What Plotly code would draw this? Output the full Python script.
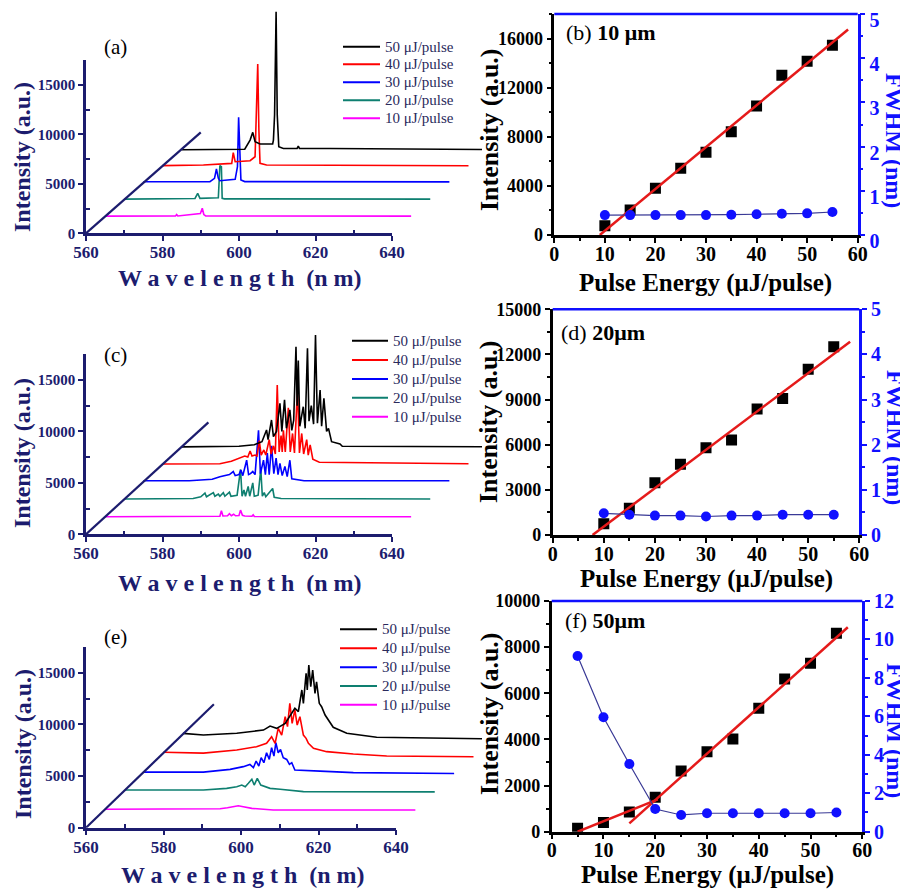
import plotly.graph_objects as go

# ======================= DATA =======================
SERIES_NAMES = ["10 μJ/pulse", "20 μJ/pulse", "30 μJ/pulse", "40 μJ/pulse", "50 μJ/pulse"]
WAVE_TICKS = [560, 580, 600, 620, 640]
WAVE_MINOR = [570, 590, 610, 630]
INT_TICKS = [0, 5000, 10000, 15000]
INT_MINOR = [2500, 7500, 12500]

# (a) 10 um spectra (raw wavelength nm, intensity a.u. before waterfall offset)
A10_WL = [560, 578.4, 578.7, 579.0, 584.9, 585.4, 585.8, 586.3, 640]
A10_I = [40, 50, 200, 50, 300, 830, 200, 50, 40]
A20_WL = [560, 578.5, 579.2, 579.8, 584.6, 585.0, 585.4, 585.6, 586.2, 640]
A20_I = [60, 120, 640, 130, 200, 3440, 3340, 140, 80, 60]
A30_WL = [560, 577.4, 578.6, 579.1, 579.6, 580.0, 584.0, 584.6, 584.9, 585.3, 585.5, 586.5, 640]
A30_I = [110, 120, 460, 1400, 460, 220, 360, 1630, 6630, 2640, 300, 130, 100]
A40_WL = [560, 570.7, 578.1, 578.5, 579.0, 582.9, 584.2, 584.4, 584.9, 585.2, 585.5, 587.2, 640]
A40_I = [40, 100, 270, 1350, 440, 540, 940, 3640, 10320, 3640, 270, 100, 30]
A50_WL = [560, 576.5, 577.9, 578.6, 579.2, 580.5, 583.8, 584.0, 584.3, 584.7, 585.0, 585.4,
          586.6, 590.2, 590.5, 590.8, 598.8, 640]
A50_I = [-50, 0, 930, 1710, 770, 530, 530, 930, 3460, 13900, 3460, 250, 80, 80, 330, 80, 80, -30]

# (c) 20 um spectra
C10_WL = [560, 582, 586, 588, 590.0, 590.4, 590.8, 592.0, 592.5, 593.0, 593.6, 594.1, 595.0,
          595.4, 595.9, 596.5, 598.4, 598.7, 599.0, 640]
C10_I = [10, 10, 60, 40, 60, 580, 80, 100, 300, 100, 250, 100, 120, 650, 150, 80, 60, 200, 30, 0]
C20_WL = [560, 576, 578, 580, 581.1, 581.5, 583.3, 583.7, 584.6, 585.0, 585.9, 586.3, 587.5, 587.9,
          589.5, 590.4, 590.8, 591.3, 591.7, 592.4, 592.8, 593.6, 594.0, 595.0, 595.7, 596.1, 596.6,
          597.0, 598.8, 599.2, 601, 640]
C20_I = [30, 30, 80, 250, 600, 250, 650, 300, 500, 300, 650, 300, 700, 300, 400, 2900, 300, 900,
         300, 1250, 300, 1600, 300, 400, 2950, 300, 650, 250, 1050, 200, 80, 30]
C30_WL = [560, 572, 578, 580, 582.5, 583.5, 584.0, 585.0, 585.5, 586.0, 587.0, 587.5, 588.0, 588.6,
          589.2, 590.1, 590.6, 591.4, 591.9, 592.4, 592.9, 593.5, 594.1, 594.7, 595.2, 595.7, 596.3,
          597.0, 597.6, 598.3, 598.8, 600, 602, 640]
C30_I = [100, 100, 250, 500, 700, 1000, 600, 700, 1150, 600, 2100, 700, 800, 1000, 700, 5000, 800,
         2100, 700, 2800, 700, 3500, 800, 2300, 700, 1800, 600, 1500, 500, 2100, 300, 200, 100, 100]
C40_WL = [560, 575, 578, 580, 581.5, 582.3, 582.9, 583.4, 584.2, 584.7, 585.3, 585.8, 586.5, 587.0,
          587.9, 588.4, 589.0, 589.5, 590.0, 590.5, 591.0, 591.3, 591.6, 592.1, 592.9, 593.4, 594.0,
          594.5, 595.3, 595.8, 596.4, 596.9, 597.7, 598.1, 598.6, 599.3, 601, 640]
C40_I = [30, 50, 300, 600, 800, 700, 1300, 800, 900, 800, 2300, 900, 1400, 900, 2400, 1000, 1800,
         1000, 7700, 1200, 2800, 1200, 3300, 1200, 5500, 1200, 3000, 1100, 7400, 1100, 3000, 1000,
         2400, 900, 1900, 500, 200, 50]
C50_WL = [560, 575, 579, 581, 582.2, 582.6, 583.5, 584.0, 584.8, 585.7, 586.2, 586.9, 587.4, 588.3,
          588.8, 589.3, 589.9, 590.2, 590.5, 590.9, 591.8, 592.3, 592.9, 593.3, 593.9, 594.5, 595.0,
          595.5, 596.2, 596.6, 597.2, 597.9, 598.4, 599.2, 601.4, 602, 640]
C50_I = [0, 50, 200, 500, 1640, 700, 2610, 1000, 1500, 4230, 1500, 4560, 1800, 3600, 1600, 2600,
         9730, 4000, 8380, 2000, 3900, 1800, 9580, 2500, 4000, 2200, 10870, 2300, 5520, 2000, 4720,
         1500, 1800, 500, 280, 50, 0]

# (e) 50 um spectra
E10_WL = [560, 585, 589.6, 591.5, 593.0, 594.3, 595.6, 597.8, 600, 603.3, 640]
E10_I = [-30, -30, 30, 120, 220, 320, 220, 60, 0, -100, -100]
E20_WL = [560, 580.3, 586.3, 588.9, 590.2, 591.1, 591.9, 592.8, 593.4, 594.2, 595.1, 596.2, 597.5,
          600.1, 606.1, 640]
E20_I = [30, 30, 190, 350, 510, 350, 675, 1065, 510, 1160, 510, 350, 190, 100, -130, -150]
E30_WL = [560, 575.3, 582.2, 585.6, 587.3, 588.2, 588.9, 589.6, 590.2, 590.9, 591.6, 592.3, 592.9,
          593.5, 594.0, 594.6, 595.2, 595.9, 596.8, 597.5, 598.1, 598.9, 605.4, 614, 640]
E30_I = [-50, -50, 215, 480, 700, 380, 1020, 535, 1350, 860, 1830, 1180, 2320, 1500, 2800, 1830,
         2150, 1350, 1180, 700, 860, 150, 50, -100, -190]
E40_WL = [560, 570.3, 578.9, 584.0, 586.6, 587.9, 588.8, 589.6, 590.5, 591.4, 592.0, 592.6, 593.2,
          593.9, 594.5, 595.2, 596.1, 596.8, 597.4, 598.7, 602.1, 609.0, 617.6, 640]
E40_I = [60, -20, 280, 600, 930, 1570, 930, 2380, 1730, 3510, 2540, 4800, 2860, 4160, 2700, 3510,
         1730, 1410, 930, 450, 120, -110, -300, -370]
E50_WL = [560, 565.3, 573.9, 580.8, 582.5, 584.2, 586.4, 587.6, 588.9, 589.8, 590.7, 591.1, 591.8,
          592.1, 592.5, 593.0, 593.5, 594.1, 594.5, 595.2, 595.8, 596.7, 597.5, 598.8, 602.3, 610, 640]
E50_I = [85, -80, 100, 400, 790, 570, 1050, 1700, 2510, 2180, 4280, 2990, 5900, 4280, 6700, 4600,
         6210, 3960, 5080, 2990, 2660, 1860, 1380, 670, 100, -300, -450]

# waterfall offsets (per step)
WL_STEP = 5
A_STEP, C_STEP, E_STEP = 1700, 1700, 1810

# (b), (d), (f) intensity & FWHM vs pulse energy
PULSE_E = [10, 15, 20, 25, 30, 35, 40, 45, 50, 55]
B_INT = [750, 2030, 3800, 5430, 6750, 8400, 10500, 13020, 14160, 15460]
B_FWHM = [0.45, 0.45, 0.45, 0.45, 0.45, 0.46, 0.47, 0.48, 0.49, 0.52]
B_FIT_X, B_FIT_Y = [9.0, 58.1], [0, 16740]

D_INT = [750, 1775, 3480, 4700, 5800, 6310, 8370, 9080, 11010, 12515]
D_FWHM = [0.48, 0.45, 0.43, 0.43, 0.41, 0.43, 0.43, 0.45, 0.45, 0.45]
D_FIT_X, D_FIT_Y = [7.8, 58.2], [0, 12850]

F_PULSE_E = [5, 10, 15, 20, 25, 30, 35, 40, 45, 50, 55]
F_INT = [150, 400, 850, 1490, 2630, 3470, 4020, 5350, 6620, 7300, 8600]
F_FWHM = [9.14, 5.95, 3.52, 1.18, 0.87, 0.96, 0.96, 0.96, 0.96, 0.96, 1.0]
F_FIT1_X, F_FIT1_Y = [5, 20.5], [0, 1400]
F_FIT2_X, F_FIT2_Y = [15, 57.2], [360, 8860]

# ======================= STYLE =======================
PAGE_OFF = 8            # default body margin of the html page
W, H = 900, 882         # figure size so that page = 908 x 890
SERIF = "Liberation Serif"
NAVY = "#1c1c6e"
LEG_TXT = "#2a2a5c"
BLUE = "#1010ff"
COLORS = ["#ff00ff", "#0e7f70", "#0000ff", "#ff0000", "#000000"]


def clamp(v):
    return min(1.0, max(0.0, v))


def fx(p):
    return clamp((p - PAGE_OFF) / W)


def fy(p):
    return clamp(1 - (p - PAGE_OFF) / H)


fig = go.Figure()
layout = dict(width=W, height=H,
              margin=dict(l=0, r=0, t=0, b=0, pad=0, autoexpand=False), autosize=False,
              paper_bgcolor="white", plot_bgcolor="rgba(0,0,0,0)", showlegend=False,
              font=dict(family=SERIF))
shapes, annots = [], []


def axkey(a):
    return ("xaxis" if a[0] == "x" else "yaxis") + a[1:]


def left_panel(dx, dy, fxa, fya, series, step, x0, xscale, y0, yscale, diag_end,
               label, label_pos, ylab_pos, xlab_pos, leg_x0, leg_x1, leg_tx, leg_rows):
    xr_max = 560 + (482 - x0) / xscale
    ytop = (y0 - PAGE_OFF) / yscale          # data area reaches the top of the page
    layout[axkey(dx)] = dict(domain=[fx(x0), fx(482)], range=[560, xr_max], visible=False,
                             anchor=dy, automargin=False)
    layout[axkey(dy)] = dict(domain=[fy(y0), 1.0], range=[0, ytop],
                             visible=False, anchor=dx, automargin=False)
    # frame axes (visible axis lines only span 560-640 and 0-17500)
    layout[axkey(fxa)] = dict(domain=[fx(x0), fx(x0 + 80 * xscale)], range=[560, 640],
                              anchor=fya, showline=True, linecolor=NAVY, linewidth=2.5,
                              ticks="outside", ticklen=5, tickwidth=2, tickcolor=NAVY,
                              tickvals=WAVE_TICKS, ticktext=[str(v) for v in WAVE_TICKS],
                              tickfont=dict(family=SERIF, size=17, color=NAVY, weight="bold"),
                              ticklabeloverflow="allow", ticklabelstandoff=-3,
                              minor=dict(tickvals=WAVE_MINOR, ticks="inside", ticklen=4,
                                         tickwidth=1.5, tickcolor=NAVY),
                              showgrid=False, zeroline=False, fixedrange=True, automargin=False)
    layout[axkey(fya)] = dict(domain=[fy(y0), fy(y0 - 17500 * yscale)], range=[0, 17500],
                              anchor=fxa, showline=True, linecolor=NAVY, linewidth=2.5,
                              ticks="outside", ticklen=5, tickwidth=2, tickcolor=NAVY,
                              tickvals=INT_TICKS, ticktext=[str(v) for v in INT_TICKS],
                              tickfont=dict(family=SERIF, size=15, color=NAVY, weight="bold"),
                              ticklabeloverflow="allow",
                              minor=dict(tickvals=INT_MINOR, ticks="inside", ticklen=4,
                                         tickwidth=1.5, tickcolor=NAVY),
                              showgrid=False, zeroline=False, fixedrange=True, automargin=False)
    for k, ((wl, inten), name, col) in enumerate(zip(series, SERIES_NAMES, COLORS), start=1):
        fig.add_trace(go.Scatter(x=[w + WL_STEP * k for w in wl], y=[v + step * k for v in inten],
                                 mode="lines", line=dict(color=col, width=1.6), name=name,
                                 xaxis=dx, yaxis=dy, hoverinfo="skip"))
    # oblique (offset) axis of the waterfall, drawn on the frame axes
    fig.add_trace(go.Scatter(x=[560, diag_end], y=[0, (diag_end - 560) / WL_STEP * step],
                             mode="lines", line=dict(color=NAVY, width=2.2), xaxis=fxa,
                             yaxis=fya, hoverinfo="skip", name="offset axis"))
    annots.append(dict(text=label, x=fx(label_pos[0]), y=fy(label_pos[1]), xref="paper",
                       yref="paper", showarrow=False, xanchor="center", yanchor="middle",
                       font=dict(family=SERIF, size=21, color="black")))
    annots.append(dict(text="<b>Intensity (a.u.)</b>", x=fx(ylab_pos[0]), y=fy(ylab_pos[1]),
                       xref="paper", yref="paper", showarrow=False, textangle=-90,
                       xanchor="center", yanchor="middle",
                       font=dict(family=SERIF, size=24, color=NAVY)))
    annots.append(dict(text="<b>W a v e l e n g t h  (n m)</b>", x=fx(xlab_pos[0]),
                       y=fy(xlab_pos[1]), xref="paper", yref="paper", showarrow=False,
                       xanchor="center", yanchor="middle",
                       font=dict(family=SERIF, size=24, color=NAVY)))
    # legend (top entry = 50 uJ)
    for i, k in enumerate([4, 3, 2, 1, 0]):
        yy = leg_rows[i]
        shapes.append(dict(type="line", xref="paper", yref="paper", x0=fx(leg_x0), x1=fx(leg_x1),
                           y0=fy(yy), y1=fy(yy), line=dict(color=COLORS[k], width=2)))
        annots.append(dict(text=SERIES_NAMES[k], x=fx(leg_tx), y=fy(yy), xref="paper",
                           yref="paper", showarrow=False, xanchor="left", yanchor="middle",
                           font=dict(family=SERIF, size=15, color=LEG_TXT)))


def right_panel(xa, ya, ya2, energies, inten, fwhm, fits, xd, yd, ymax, ydt, ymin_dt,
                y2max, y2dt, y2min_dt, label, label_pos, ylab_pos, xlab_pos, flab_pos,
                y2shift=0):
    layout[axkey(xa)] = dict(domain=[fx(xd[0]), fx(xd[1])], range=[0, 60], anchor=ya,
                             showline=True, linecolor="black", linewidth=2.5, ticks="outside",
                             ticklen=5, tickwidth=2, tickcolor="black", dtick=10, tick0=0,
                             ticklabelstandoff=-6, ticklabeloverflow="allow",
                             tickfont=dict(family=SERIF, size=20, color="black", weight="bold"),
                             minor=dict(dtick=5, ticks="outside", ticklen=3, tickwidth=1.5,
                                        tickcolor="black"),
                             showgrid=False, zeroline=False, fixedrange=True, automargin=False)
    layout[axkey(ya)] = dict(domain=[fy(yd[1]), fy(yd[0])], range=[0, ymax], anchor=xa,
                             showline=True, linecolor="black", linewidth=2.5, ticks="outside",
                             ticklen=5, tickwidth=2, tickcolor="black", dtick=ydt, tick0=0,
                             tickformat="d", ticklabeloverflow="allow",
                             tickfont=dict(family=SERIF, size=18, color="black", weight="bold"),
                             minor=dict(dtick=ymin_dt, ticks="outside", ticklen=3, tickwidth=1.5,
                                        tickcolor="black"),
                             showgrid=False, zeroline=False, fixedrange=True, automargin=False)
    layout[axkey(ya2)] = dict(range=[0, y2max], overlaying=ya, side="right", anchor=xa,
                              showline=True, linecolor=BLUE, linewidth=2.5, ticks="outside",
                              ticklen=5, tickwidth=2, tickcolor=BLUE, dtick=y2dt, tick0=0,
                              ticklabeloverflow="allow", ticklabelshift=y2shift,
                              tickfont=dict(family=SERIF, size=20, color=BLUE, weight="bold"),
                              minor=dict(dtick=y2min_dt, ticks="outside", ticklen=3,
                                         tickwidth=1.5, tickcolor=BLUE),
                              showgrid=False, zeroline=False, fixedrange=True, automargin=False)
    shapes.append(dict(type="line", xref=xa + " domain", yref=ya + " domain", x0=0, x1=1,
                       y0=1, y1=1, line=dict(color=BLUE, width=2.5)))
    fig.add_trace(go.Scatter(x=energies, y=fwhm, mode="lines+markers", xaxis=xa, yaxis=ya2,
                             line=dict(color="#3a3a96", width=1.2),
                             marker=dict(symbol="circle", size=10, color=BLUE),
                             name="FWHM", hoverinfo="skip"))
    fig.add_trace(go.Scatter(x=energies, y=inten, mode="markers", xaxis=xa, yaxis=ya,
                             marker=dict(symbol="square", size=11, color="black"),
                             name="Intensity", hoverinfo="skip"))
    for fxs, fys in fits:
        fig.add_trace(go.Scatter(x=fxs, y=fys, mode="lines", xaxis=xa, yaxis=ya,
                                 line=dict(color="#e51a1a", width=2.5), name="fit",
                                 hoverinfo="skip"))
    annots.append(dict(text=label, x=fx(label_pos[0]), y=fy(label_pos[1]), xref="paper",
                       yref="paper", showarrow=False, xanchor="left", yanchor="middle",
                       font=dict(family=SERIF, size=22, color="black")))
    annots.append(dict(text="<b>Intensity (a.u.)</b>", x=fx(ylab_pos[0]), y=fy(ylab_pos[1]),
                       xref="paper", yref="paper", showarrow=False, textangle=-90,
                       xanchor="center", yanchor="middle",
                       font=dict(family=SERIF, size=26, color="black")))
    annots.append(dict(text="<b>Pulse Energy (μJ/pulse)</b>", x=fx(xlab_pos[0]),
                       y=fy(xlab_pos[1]), xref="paper", yref="paper", showarrow=False,
                       xanchor="center", yanchor="middle",
                       font=dict(family=SERIF, size=25, color="black")))
    annots.append(dict(text="<b>FWHM (nm)</b>", x=fx(flab_pos[0]), y=fy(flab_pos[1]),
                       xref="paper", yref="paper", showarrow=False, textangle=90,
                       xanchor="center", yanchor="middle",
                       font=dict(family=SERIF, size=24, color=BLUE)))


left_panel("x", "y", "x2", "y2",
           [(A10_WL, A10_I), (A20_WL, A20_I), (A30_WL, A30_I), (A40_WL, A40_I), (A50_WL, A50_I)],
           A_STEP, 86, 3.825, 233.3, 0.00989, 590,
           "(a)", (115, 47), (22, 157), (240, 278), 343, 380, 383,
           [46.7, 64.3, 82.3, 100.3, 118.3])
right_panel("x3", "y3", "y4", PULSE_E, B_INT, B_FWHM, [(B_FIT_X, B_FIT_Y)],
            (554.3, 857.7), (14, 235), 18000, 4000, 2000, 5, 1, 0.5,
            "(b) <b>10 μm</b>", (564, 33), (490, 130), (705, 283), (894, 140), y2shift=6)
left_panel("x4", "y5", "x5", "y6",
           [(C10_WL, C10_I), (C20_WL, C20_I), (C30_WL, C30_I), (C40_WL, C40_I), (C50_WL, C50_I)],
           C_STEP, 86, 3.825, 534.3, 0.01029, 592,
           "(c)", (115, 355), (22, 453), (240, 583), 352, 388, 391,
           [340.7, 360, 379, 397.7, 416.7])
right_panel("x6", "y7", "y8", PULSE_E, D_INT, D_FWHM, [(D_FIT_X, D_FIT_Y)],
            (552.7, 859.3), (309.3, 535), 15000, 3000, 1500, 5, 1, 0.5,
            "(d) <b>20μm</b>", (559, 333), (488, 422), (706, 579), (895, 437))
left_panel("x7", "y9", "x8", "y10",
           [(E10_WL, E10_I), (E20_WL, E20_I), (E30_WL, E30_I), (E40_WL, E40_I), (E50_WL, E50_I)],
           E_STEP, 86, 3.875, 827.7, 0.01033, 593,
           "(e)", (115, 637), (23, 744), (243, 875), 340, 377, 380,
           [629.3, 648.3, 667.3, 686, 704.7])
right_panel("x9", "y11", "y12", F_PULSE_E, F_INT, F_FWHM,
            [(F_FIT1_X, F_FIT1_Y), (F_FIT2_X, F_FIT2_Y)],
            (551.7, 862.3), (601, 831.7), 10000, 2000, 1000, 12, 2, 1,
            "(f) <b>50μm</b>", (563, 620), (489, 714), (707, 875), (895, 730))

layout["shapes"] = shapes
layout["annotations"] = annots
fig.update_layout(**layout)
fig.write_html("out.html")
